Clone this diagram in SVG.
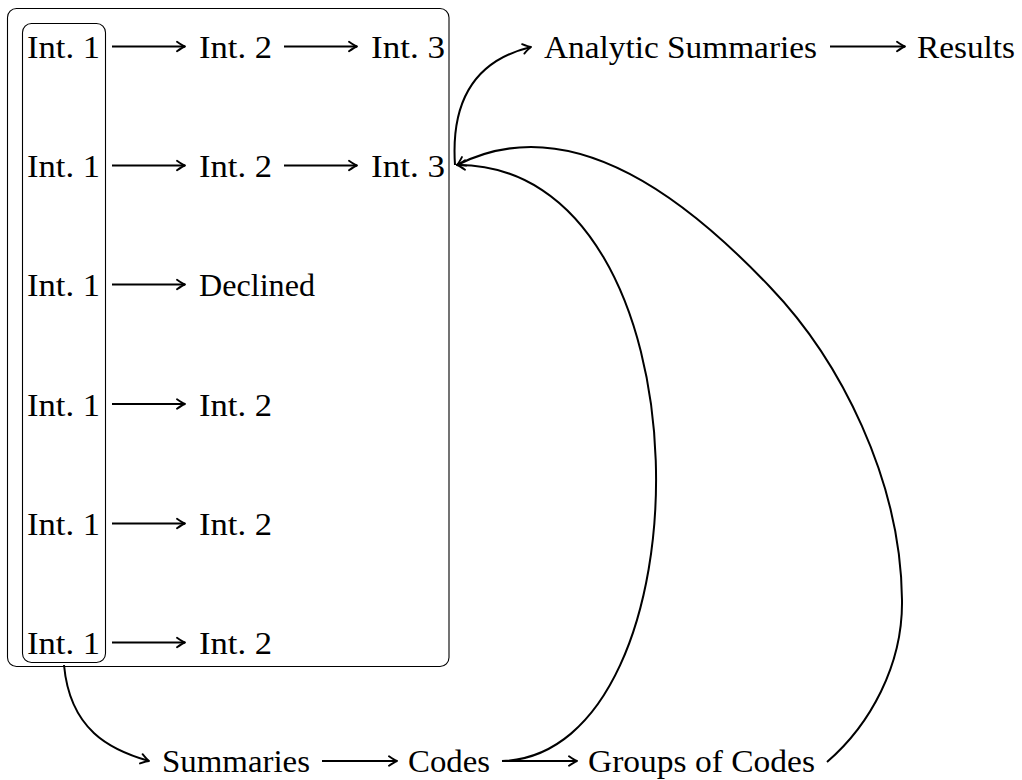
<svg xmlns="http://www.w3.org/2000/svg" width="1022" height="780" viewBox="0 0 1022 780">
<style>
text{font-family:"Liberation Serif","Times New Roman",serif;font-size:32px;fill:#000}
.box{fill:none;stroke:#000;stroke-width:1.1}
.edge{fill:none;stroke:#000;stroke-width:2}
</style>
<defs>
<marker id="tip" markerUnits="userSpaceOnUse" markerWidth="14" markerHeight="14" viewBox="-10 -7 14 14" refX="0" refY="0" orient="auto">
<path d="M-8,-4.8 Q-2.5,-0.9 0,0 Q-2.5,0.9 -8,4.8" fill="none" stroke="#000" stroke-width="1.9" stroke-linecap="round" stroke-linejoin="round"/>
</marker>
</defs>
<rect id="outer-box" class="box" x="7.5" y="8.5" width="441.5" height="658" rx="9"/>
<rect id="inner-box" class="box" x="22.5" y="23.5" width="83" height="639" rx="9"/>
<g id="r1c1"><text x="27" y="58" textLength="73" lengthAdjust="spacingAndGlyphs">Int. 1</text></g>
<g id="r1c2"><text x="199" y="58" textLength="73" lengthAdjust="spacingAndGlyphs">Int. 2</text></g>
<g id="r1c3"><text x="371" y="58" textLength="74" lengthAdjust="spacingAndGlyphs">Int. 3</text></g>
<g id="r2c1"><text x="27" y="177" textLength="73" lengthAdjust="spacingAndGlyphs">Int. 1</text></g>
<g id="r2c2"><text x="199" y="177" textLength="73" lengthAdjust="spacingAndGlyphs">Int. 2</text></g>
<g id="r2c3"><text x="371" y="177" textLength="74" lengthAdjust="spacingAndGlyphs">Int. 3</text></g>
<g id="r3c1"><text x="27" y="296" textLength="73" lengthAdjust="spacingAndGlyphs">Int. 1</text></g>
<g id="r3c2"><text x="199" y="296" textLength="116" lengthAdjust="spacingAndGlyphs">Declined</text></g>
<g id="r4c1"><text x="27" y="415.5" textLength="73" lengthAdjust="spacingAndGlyphs">Int. 1</text></g>
<g id="r4c2"><text x="199" y="415.5" textLength="73" lengthAdjust="spacingAndGlyphs">Int. 2</text></g>
<g id="r5c1"><text x="27" y="535" textLength="73" lengthAdjust="spacingAndGlyphs">Int. 1</text></g>
<g id="r5c2"><text x="199" y="535" textLength="73" lengthAdjust="spacingAndGlyphs">Int. 2</text></g>
<g id="r6c1"><text x="27" y="654" textLength="73" lengthAdjust="spacingAndGlyphs">Int. 1</text></g>
<g id="r6c2"><text x="199" y="654" textLength="73" lengthAdjust="spacingAndGlyphs">Int. 2</text></g>
<g id="analytic"><text x="544" y="58" textLength="273" lengthAdjust="spacingAndGlyphs">Analytic Summaries</text></g>
<g id="results"><text x="917" y="58" textLength="98" lengthAdjust="spacingAndGlyphs">Results</text></g>
<g id="summaries"><text x="162" y="772" textLength="148" lengthAdjust="spacingAndGlyphs">Summaries</text></g>
<g id="codes"><text x="408" y="772" textLength="82" lengthAdjust="spacingAndGlyphs">Codes</text></g>
<g id="groups"><text x="588" y="772" textLength="227" lengthAdjust="spacingAndGlyphs">Groups of Codes</text></g>
<g id="connectors">
<path class="edge" marker-end="url(#tip)" d="M112,46.5 H185"/>
<path class="edge" marker-end="url(#tip)" d="M284,46.5 H357"/>
<path class="edge" marker-end="url(#tip)" d="M112,165.5 H185"/>
<path class="edge" marker-end="url(#tip)" d="M284,165.5 H357"/>
<path class="edge" marker-end="url(#tip)" d="M112,284.5 H185"/>
<path class="edge" marker-end="url(#tip)" d="M112,404 H185"/>
<path class="edge" marker-end="url(#tip)" d="M112,523.5 H185"/>
<path class="edge" marker-end="url(#tip)" d="M112,642.5 H185"/>
<path class="edge" marker-end="url(#tip)" d="M830,46.5 H905"/>
<path class="edge" marker-end="url(#tip)" d="M322,761 H397"/>
<path class="edge" marker-end="url(#tip)" d="M502,761 H577"/>
<path class="edge" marker-end="url(#tip)" d="M455,165 C450,90 485,58 531,47"/>
<path class="edge" marker-end="url(#tip)" d="M64,665 C70,730 110,750 149,761"/>
<path class="edge" marker-end="url(#tip)" d="M502,761 C712,755 717,164 457,165"/>
<path class="edge" marker-end="url(#tip)" d="M827,762 C870,725 903,665 902,600 C901,480 840,360 770,287 C695,208 575,105 457,165"/>
</g>
</svg>
